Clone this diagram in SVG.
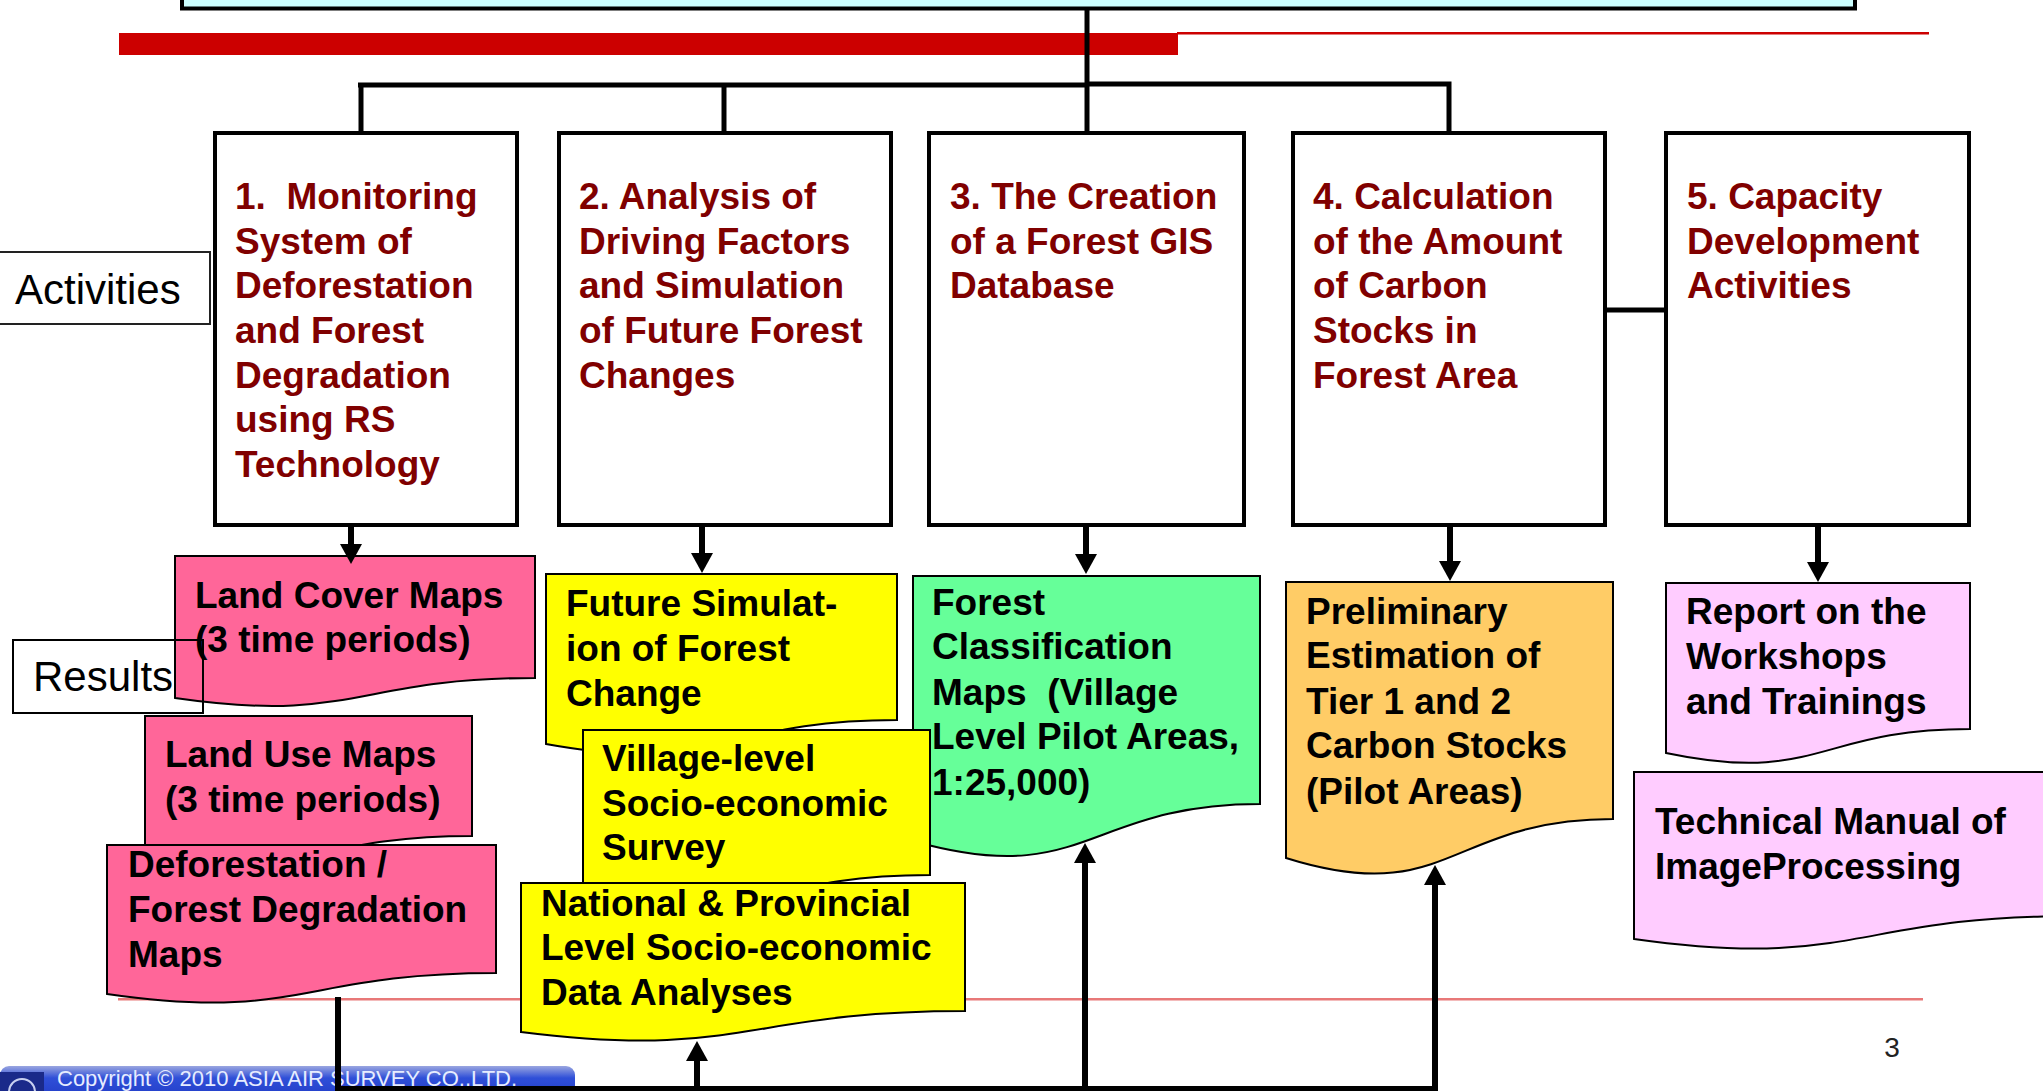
<svg xmlns="http://www.w3.org/2000/svg" width="2043" height="1091" viewBox="0 0 2043 1091">
<defs>
<style>
.act{fill:#fff;stroke:#000;stroke-width:4}
.atx{font-family:"Liberation Sans",Arial,sans-serif;font-weight:bold;font-size:37px;fill:#800000;white-space:pre}
.dtx{font-family:"Liberation Sans",Arial,sans-serif;font-weight:bold;font-size:37px;fill:#000;white-space:pre}
.doc{stroke:#000;stroke-width:2}
.lbl{font-family:"Liberation Sans",Arial,sans-serif;font-size:42px;fill:#000}
.conn{stroke:#000;stroke-width:5;fill:none}
.arr{stroke:#000;stroke-width:6;fill:none}
</style>
<marker id="ah" viewBox="0 0 20 22" refX="0" refY="11" markerWidth="20" markerHeight="22" markerUnits="userSpaceOnUse" orient="auto">
<path d="M0,0 L20,11 L0,22 Z" fill="#000"/>
</marker>
<linearGradient id="cg" x1="0" y1="0" x2="0" y2="1">
<stop offset="0" stop-color="#9aa6e0"/>
<stop offset="0.3" stop-color="#2f4fd8"/>
<stop offset="1" stop-color="#1d36c0"/>
</linearGradient>
</defs>
<rect width="2043" height="1091" fill="#fff"/>

<g id="decor">
<rect x="182" y="-20" width="1673" height="28.5" fill="#CCFFFF" stroke="#000" stroke-width="4"/>
<rect x="119" y="33" width="1059" height="22" fill="#CC0000"/>
<rect x="1177" y="32" width="752" height="2.5" fill="#CC0000"/>
<rect x="118" y="998" width="1805" height="2.5" fill="#E87878"/>
<rect x="0" y="1066" width="575" height="40" rx="9" fill="url(#cg)"/>
<rect x="0" y="1072" width="44" height="30" fill="#1a2a8a"/>
<circle cx="22" cy="1092" r="13" fill="none" stroke="#c8d0f0" stroke-width="2"/>
<text x="57" y="1086" font-family="'Liberation Sans',Arial,sans-serif" font-size="22" fill="#e6ecff">Copyright © 2010 ASIA AIR SURVEY CO.,LTD.</text>
<text x="1892" y="1057" text-anchor="middle" font-family="'Liberation Sans',Arial,sans-serif" font-size="28" fill="#222">3</text>
</g>

<g id="label-activities">
<rect x="-3" y="252" width="213" height="72" fill="#fff" stroke="#222" stroke-width="2"/>
<text class="lbl" x="15" y="304">Activities</text>
</g>

<g id="act1">
<rect class="act" x="215" y="133" width="302" height="392"/>
<text class="atx" x="235" y="209">1.  Monitoring</text>
<text class="atx" x="235" y="254">System of</text>
<text class="atx" x="235" y="298">Deforestation</text>
<text class="atx" x="235" y="343">and Forest</text>
<text class="atx" x="235" y="388">Degradation</text>
<text class="atx" x="235" y="432">using RS</text>
<text class="atx" x="235" y="477">Technology</text>
</g>
<g id="act2">
<rect class="act" x="559" y="133" width="332" height="392"/>
<text class="atx" x="579" y="209">2. Analysis of</text>
<text class="atx" x="579" y="254">Driving Factors</text>
<text class="atx" x="579" y="298">and Simulation</text>
<text class="atx" x="579" y="343">of Future Forest</text>
<text class="atx" x="579" y="388">Changes</text>
</g>
<g id="act3">
<rect class="act" x="929" y="133" width="315" height="392"/>
<text class="atx" x="950" y="209">3. The Creation</text>
<text class="atx" x="950" y="254">of a Forest GIS</text>
<text class="atx" x="950" y="298">Database</text>
</g>
<g id="act4">
<rect class="act" x="1293" y="133" width="312" height="392"/>
<text class="atx" x="1313" y="209">4. Calculation</text>
<text class="atx" x="1313" y="254">of the Amount</text>
<text class="atx" x="1313" y="298">of Carbon</text>
<text class="atx" x="1313" y="343">Stocks in</text>
<text class="atx" x="1313" y="388">Forest Area</text>
</g>
<g id="act5">
<rect class="act" x="1666" y="133" width="303" height="392"/>
<text class="atx" x="1687" y="209">5. Capacity</text>
<text class="atx" x="1687" y="254">Development</text>
<text class="atx" x="1687" y="298">Activities</text>
</g>

<g id="res-landcover">
<path class="doc" fill="#FF6699" d="M175,556 H535 V678 C355,678 355,724 175,698 Z"/>
<text class="dtx" x="195" y="608">Land Cover Maps</text>
<text class="dtx" x="195" y="652">(3 time periods)</text>
</g>
<g id="res-landuse">
<path class="doc" fill="#FF6699" d="M145,716 H472 V836 C308,836 308,882 145,856 Z"/>
<text class="dtx" x="165" y="767">Land Use Maps</text>
<text class="dtx" x="165" y="812">(3 time periods)</text>
</g>
<g id="res-deforestation">
<path class="doc" fill="#FF6699" d="M107,845 H496 V973 C301,973 301,1022 107,994 Z"/>
<text class="dtx" x="128" y="877">Deforestation /</text>
<text class="dtx" x="128" y="922">Forest Degradation</text>
<text class="dtx" x="128" y="967">Maps</text>
</g>
<g id="res-futuresim">
<path class="doc" fill="#FFFF00" d="M546,574 H897 V720 C721,720 721,776 546,744 Z"/>
<text class="dtx" x="566" y="616">Future Simulat-</text>
<text class="dtx" x="566" y="661">ion of Forest</text>
<text class="dtx" x="566" y="706">Change</text>
</g>
<g id="res-forestclass">
<path class="doc" fill="#66FF99" d="M913,576 H1260 V804 C1086,804 1086,890 913,841 Z"/>
<text class="dtx" x="932" y="615">Forest</text>
<text class="dtx" x="932" y="659">Classification</text>
<text class="dtx" x="932" y="705">Maps  (Village</text>
<text class="dtx" x="932" y="749">Level Pilot Areas,</text>
<text class="dtx" x="932" y="795">1:25,000)</text>
</g>
<g id="res-village">
<path class="doc" fill="#FFFF00" d="M583,730 H930 V875 C756,875 756,931 583,899 Z"/>
<text class="dtx" x="602" y="771">Village-level</text>
<text class="dtx" x="602" y="816">Socio-economic</text>
<text class="dtx" x="602" y="860">Survey</text>
</g>
<g id="res-national">
<path class="doc" fill="#FFFF00" d="M521,883 H965 V1011 C743,1011 743,1060 521,1032 Z"/>
<text class="dtx" x="541" y="916">National &amp; Provincial</text>
<text class="dtx" x="541" y="960">Level Socio-economic</text>
<text class="dtx" x="541" y="1005">Data Analyses</text>
</g>
<g id="res-carbon">
<path class="doc" fill="#FFCC66" d="M1286,582 H1613 V819 C1449,819 1449,909 1286,858 Z"/>
<text class="dtx" x="1306" y="624">Preliminary</text>
<text class="dtx" x="1306" y="668">Estimation of</text>
<text class="dtx" x="1306" y="714">Tier 1 and 2</text>
<text class="dtx" x="1306" y="758">Carbon Stocks</text>
<text class="dtx" x="1306" y="804">(Pilot Areas)</text>
</g>
<g id="res-report">
<path class="doc" fill="#FFCCFF" d="M1666,583 H1970 V729 C1818,729 1818,785 1666,753 Z"/>
<text class="dtx" x="1686" y="624">Report on the</text>
<text class="dtx" x="1686" y="669">Workshops</text>
<text class="dtx" x="1686" y="714">and Trainings</text>
</g>
<g id="res-manual">
<path class="doc" fill="#FFCCFF" d="M1634,772 H2074 V916 C1854,916 1854,970 1634,939 Z"/>
<text class="dtx" x="1655" y="834">Technical Manual of</text>
<text class="dtx" x="1655" y="879">ImageProcessing</text>
</g>

<g id="label-results">
<rect x="13" y="640" width="190" height="73" fill="none" stroke="#000" stroke-width="2"/>
<text class="lbl" x="33" y="691">Results</text>
</g>

<g id="connectors">
<line class="conn" x1="1087" y1="9" x2="1087" y2="86" stroke-width="4"/>
<line class="conn" x1="358" y1="85" x2="1088" y2="85"/>
<polyline class="conn" points="1086,84 1449,84 1449,133" stroke-width="7"/>
<line class="conn" x1="361" y1="84" x2="361" y2="133"/>
<line class="conn" x1="724" y1="84" x2="724" y2="133"/>
<line class="conn" x1="1087" y1="84" x2="1087" y2="133"/>
<line class="conn" x1="1605" y1="310" x2="1666" y2="310"/>
<line class="arr" x1="351" y1="525" x2="351" y2="544" marker-end="url(#ah)"/>
<line class="arr" x1="702" y1="525" x2="702" y2="553" marker-end="url(#ah)"/>
<line class="arr" x1="1086" y1="525" x2="1086" y2="554" marker-end="url(#ah)"/>
<line class="arr" x1="1450" y1="525" x2="1450" y2="561" marker-end="url(#ah)"/>
<line class="arr" x1="1818" y1="525" x2="1818" y2="562" marker-end="url(#ah)"/>
<polyline class="arr" points="338,997 338,1089 1435,1089"/>
<line class="arr" x1="697" y1="1089" x2="697" y2="1061" marker-end="url(#ah)"/>
<line class="arr" x1="1085" y1="1089" x2="1085" y2="863" marker-end="url(#ah)"/>
<line class="arr" x1="1435" y1="1092" x2="1435" y2="885" marker-end="url(#ah)"/>
</g>
</svg>
